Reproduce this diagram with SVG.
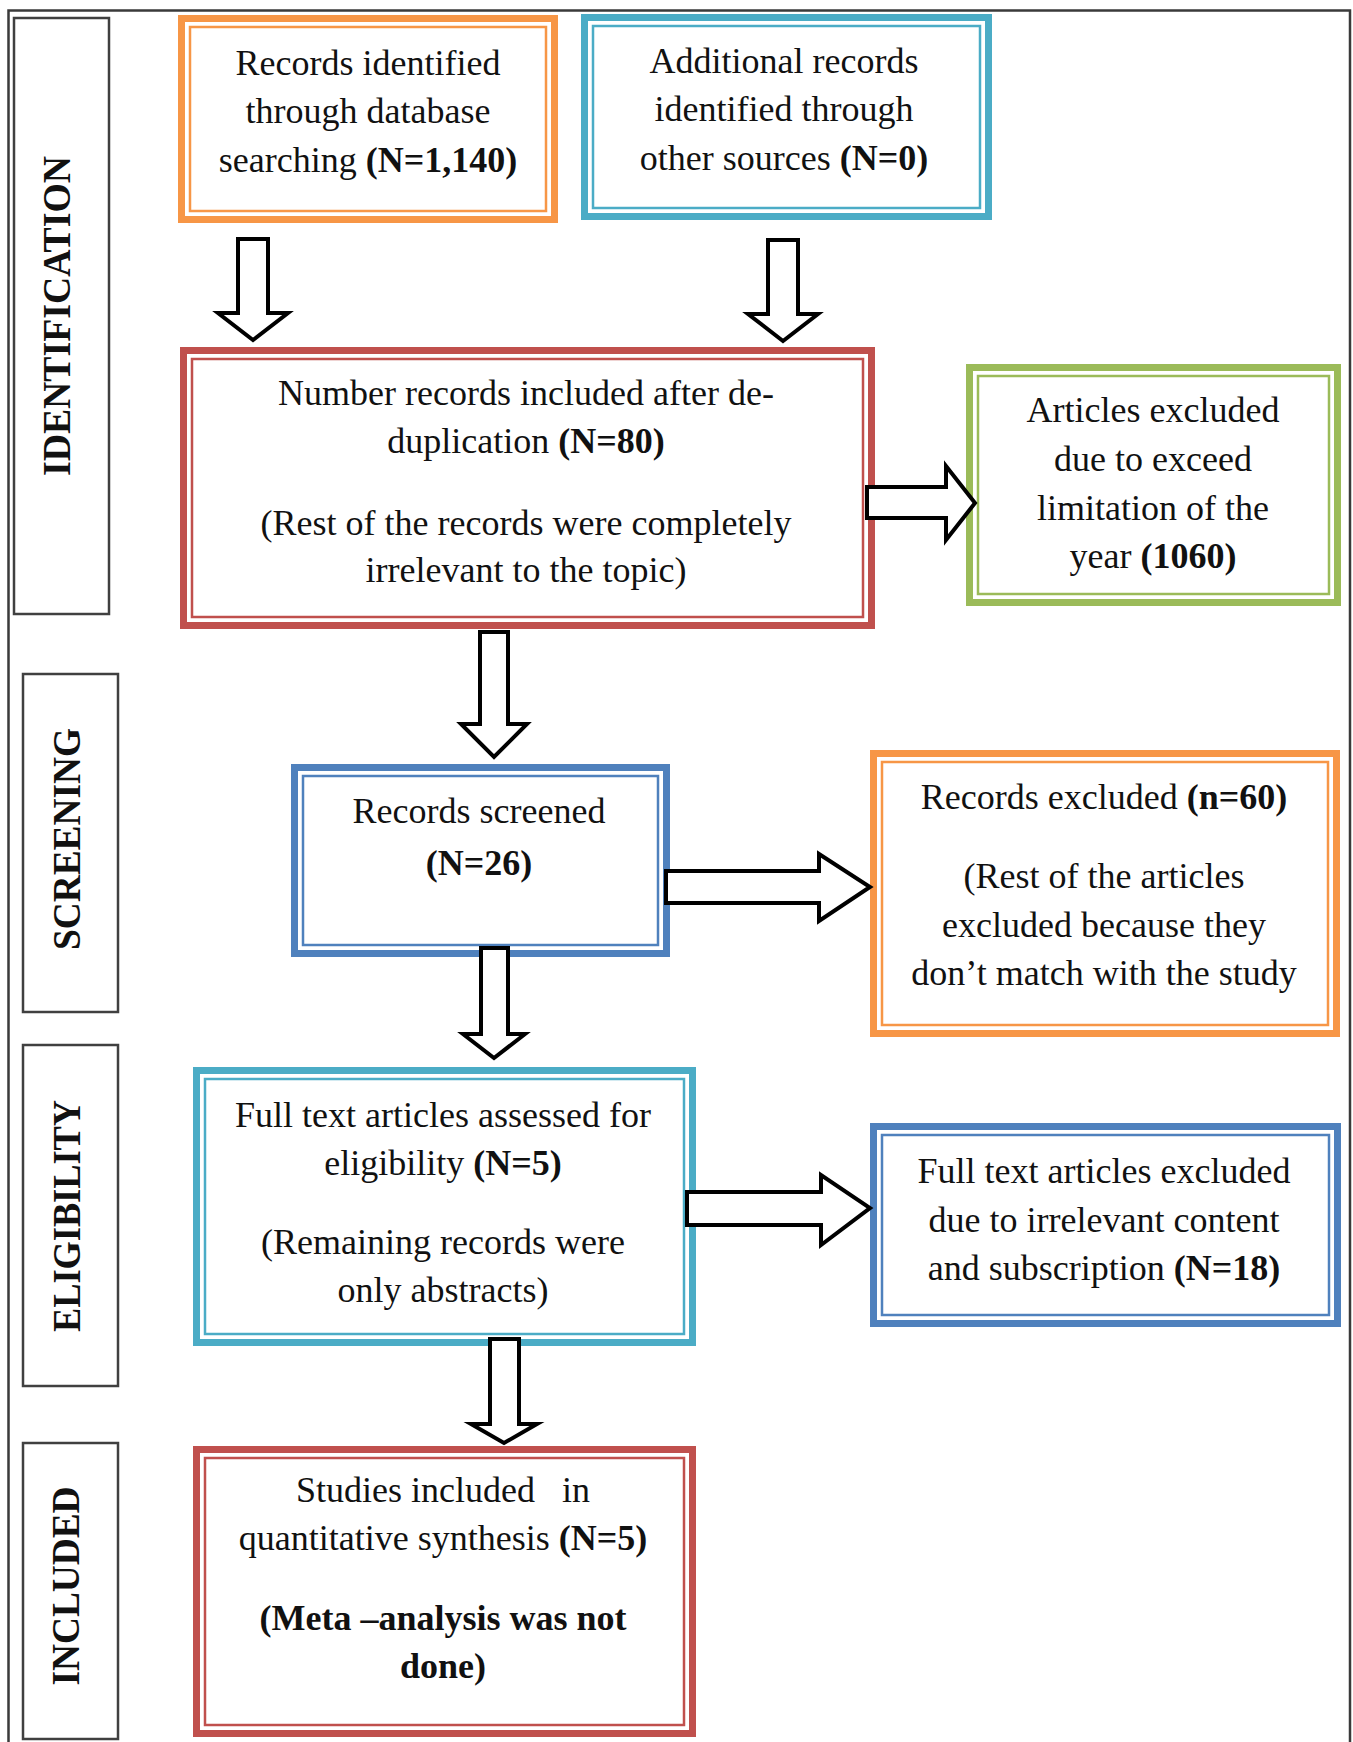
<svg xmlns="http://www.w3.org/2000/svg" width="1353" height="1742" viewBox="0 0 1353 1742">
<style>
.t{font-family:"Liberation Serif","Times New Roman",serif;font-size:36px;fill:#111;text-anchor:middle}
.b{font-weight:bold}
.side{font-family:"Liberation Serif","Times New Roman",serif;font-size:39px;font-weight:bold;fill:#111;text-anchor:middle}
.sbox{fill:#fff;stroke:#404040;stroke-width:2.5}
.o1{fill:#fff;stroke-width:7}
.o2{fill:none;stroke-width:2.5}
.orange{stroke:#F79646}
.teal{stroke:#4BACC6}
.red{stroke:#C0504D}
.green{stroke:#9BBB59}
.blue{stroke:#4F81BD}
.arr{fill:#fff;stroke:#000;stroke-width:4;stroke-linejoin:miter}
</style>
<rect x="0" y="0" width="1353" height="1742" fill="#fff"/>
<rect x="8.5" y="10.5" width="1341.5" height="1760" fill="none" stroke="#3a3a3a" stroke-width="2.5"/>

<g id="stage-identification">
<rect class="sbox" x="14" y="18" width="95" height="596"/>
<text class="side" transform="translate(70,316) rotate(-90)" textLength="320" lengthAdjust="spacingAndGlyphs">IDENTIFICATION</text>
</g>
<g id="stage-screening">
<rect class="sbox" x="23" y="674" width="95" height="338"/>
<text class="side" transform="translate(80,839) rotate(-90)" textLength="222" lengthAdjust="spacingAndGlyphs">SCREENING</text>
</g>
<g id="stage-eligibility">
<rect class="sbox" x="23" y="1045" width="95" height="341"/>
<text class="side" transform="translate(80,1216) rotate(-90)" textLength="232" lengthAdjust="spacingAndGlyphs">ELIGIBILITY</text>
</g>
<g id="stage-included">
<rect class="sbox" x="23" y="1443" width="95" height="296"/>
<text class="side" transform="translate(79,1586) rotate(-90)" textLength="199" lengthAdjust="spacingAndGlyphs">INCLUDED</text>
</g>

<g id="n1">
<rect class="o1 orange" x="181.5" y="18.5" width="373" height="201"/>
<rect class="o2 orange" x="190" y="27" width="356" height="184"/>
<text class="t" x="368" y="75">Records identified</text>
<text class="t" x="368" y="123">through database</text>
<text class="t" x="368" y="172">searching <tspan class="b">(N=1,140)</tspan></text>
</g>
<g id="n2">
<rect class="o1 teal" x="584.5" y="17.5" width="404" height="199"/>
<rect class="o2 teal" x="593" y="26" width="387" height="182"/>
<text class="t" x="784" y="73">Additional records</text>
<text class="t" x="784" y="121">identified through</text>
<text class="t" x="784" y="170">other sources <tspan class="b">(N=0)</tspan></text>
</g>
<g id="n3">
<rect class="o1 red" x="183.5" y="350.5" width="688" height="275"/>
<rect class="o2 red" x="192" y="359" width="671" height="258"/>
<text class="t" x="526" y="405">Number records included after de-</text>
<text class="t" x="526" y="453">duplication <tspan class="b">(N=80)</tspan></text>
<text class="t" x="526" y="535">(Rest of the records were completely</text>
<text class="t" x="526" y="582">irrelevant to the topic)</text>
</g>
<g id="n4">
<rect class="o1 green" x="969.5" y="367.5" width="368" height="235"/>
<rect class="o2 green" x="978" y="376" width="351" height="218"/>
<text class="t" x="1153" y="422">Articles excluded</text>
<text class="t" x="1153" y="471">due to exceed</text>
<text class="t" x="1153" y="520">limitation of the</text>
<text class="t" x="1153" y="568">year <tspan class="b">(1060)</tspan></text>
</g>
<g id="n5">
<rect class="o1 blue" x="294.5" y="767.5" width="372" height="186"/>
<rect class="o2 blue" x="303" y="776" width="355" height="169"/>
<text class="t" x="479" y="823">Records screened</text>
<text class="t b" x="479" y="875">(N=26)</text>
</g>
<g id="n6">
<rect class="o1 orange" x="873.5" y="753.5" width="463" height="280"/>
<rect class="o2 orange" x="882" y="762" width="446" height="263"/>
<text class="t" x="1104" y="809">Records excluded <tspan class="b">(n=60)</tspan></text>
<text class="t" x="1104" y="888">(Rest of the articles</text>
<text class="t" x="1104" y="937">excluded because they</text>
<text class="t" x="1104" y="985">don’t match with the study</text>
</g>
<g id="n7">
<rect class="o1 teal" x="196.5" y="1070.5" width="496" height="272"/>
<rect class="o2 teal" x="205" y="1079" width="479" height="255"/>
<text class="t" x="443" y="1127">Full text articles assessed for</text>
<text class="t" x="443" y="1175">eligibility <tspan class="b">(N=5)</tspan></text>
<text class="t" x="443" y="1254">(Remaining records were</text>
<text class="t" x="443" y="1302">only abstracts)</text>
</g>
<g id="n8">
<rect class="o1 blue" x="873.5" y="1126.5" width="464" height="197"/>
<rect class="o2 blue" x="882" y="1135" width="447" height="180"/>
<text class="t" x="1104" y="1183">Full text articles excluded</text>
<text class="t" x="1104" y="1232">due to irrelevant content</text>
<text class="t" x="1104" y="1280">and subscription <tspan class="b">(N=18)</tspan></text>
</g>
<g id="n9">
<rect class="o1 red" x="196.5" y="1449.5" width="496" height="284"/>
<rect class="o2 red" x="205" y="1458" width="479" height="267"/>
<text class="t" x="443" y="1502" xml:space="preserve">Studies included   in</text>
<text class="t" x="443" y="1550">quantitative synthesis <tspan class="b">(N=5)</tspan></text>
<text class="t b" x="443" y="1630">(Meta –analysis was not</text>
<text class="t b" x="443" y="1678">done)</text>
</g>

<g id="connectors">
<polygon class="arr" points="238,239 268,239 268,313 288,313 253,340 218,313 238,313"/>
<polygon class="arr" points="768,240 798,240 798,314 818,314 783,341 748,314 768,314"/>
<polygon class="arr" points="867,487 946,487 946,466 975,503 946,540 946,518 867,518"/>
<polygon class="arr" points="480,632 508,632 508,724 527,724 494,757 461,724 480,724"/>
<polygon class="arr" points="666,871 819,871 819,854 870,887 819,921 819,903 666,903"/>
<polygon class="arr" points="481,948 508,948 508,1034 525,1034 494,1058 463,1034 481,1034"/>
<polygon class="arr" points="687,1192 821,1192 821,1175 870,1208 821,1245 821,1225 687,1225"/>
<polygon class="arr" points="490,1339 519,1339 519,1424 537,1424 504,1443 471,1424 490,1424"/>
</g>
</svg>
